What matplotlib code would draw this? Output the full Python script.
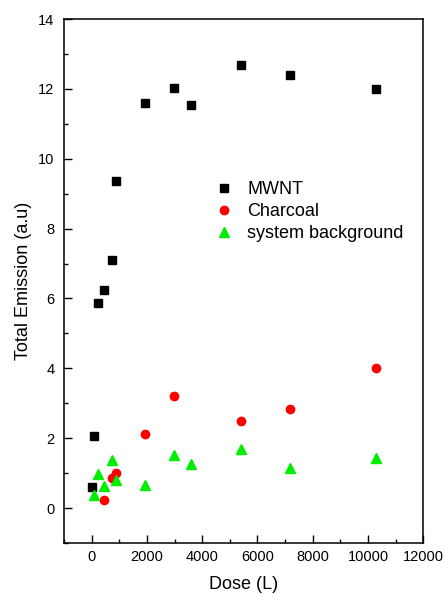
import numpy as np
import matplotlib.pyplot as plt

plt.rcParams['font.family'] = ['Liberation Sans', 'DejaVu Sans']

# dose (L) and total emission (a.u.)
dose_mwnt = np.array([25, 100, 245, 450, 750, 895, 1920, 2995, 3600, 5400, 7195, 10300])
emis_mwnt = np.array([0.61, 2.06, 5.88, 6.25, 7.10, 9.35, 11.60, 12.04, 11.55, 12.69, 12.40, 12.00])

dose_char = np.array([450, 725, 895, 1920, 2995, 5400, 7195, 10300])
emis_char = np.array([0.24, 0.86, 1.01, 2.11, 3.21, 2.50, 2.85, 4.01])

dose_bg = np.array([100, 245, 450, 750, 895, 1920, 2995, 3600, 5400, 7195, 10300])
emis_bg = np.array([0.36, 0.98, 0.63, 1.37, 0.79, 0.67, 1.52, 1.27, 1.68, 1.14, 1.43])

fig = plt.figure(figsize=(4.45, 5.94), dpi=100)
ax = fig.add_axes([0.1438, 0.0859, 0.8073, 0.882])

ax.plot(dose_mwnt, emis_mwnt, 's', color='black', markersize=5.2, label='MWNT')
ax.plot(dose_char, emis_char, 'o', color='#ff0000', markersize=6, label='Charcoal')
ax.plot(dose_bg, emis_bg, '^', color='#00ee00', markersize=6.5, label='system background')

ax.set_xlim(-1000, 12000)
ax.set_ylim(-1, 14)
ax.set_xticks(np.arange(0, 12001, 2000))
ax.set_xticks(np.arange(-1000, 12001, 1000), minor=True)
ax.set_yticks(np.arange(0, 15, 2))
ax.set_yticks(np.arange(-1, 15, 1), minor=True)
ax.tick_params(which='both', direction='in', top=False, right=False, labelsize=10.5, width=1)
ax.tick_params(which='major', length=5.5)
ax.tick_params(which='minor', length=3)
ax.tick_params(axis='x', which='major', pad=5)
ax.tick_params(axis='y', which='major', pad=7)
for s in ax.spines.values():
    s.set_linewidth(1.1)

ax.set_xlabel('Dose (L)', fontsize=13, labelpad=8.5)
ax.set_ylabel('Total Emission (a.u)', fontsize=13, labelpad=4)

ax.legend(loc='upper left', bbox_to_anchor=(0.40, 0.704), frameon=False, fontsize=13,
          handletextpad=0.8, labelspacing=0.28, handlelength=1.0, borderaxespad=0)

plt.savefig('out.png', dpi=100)
